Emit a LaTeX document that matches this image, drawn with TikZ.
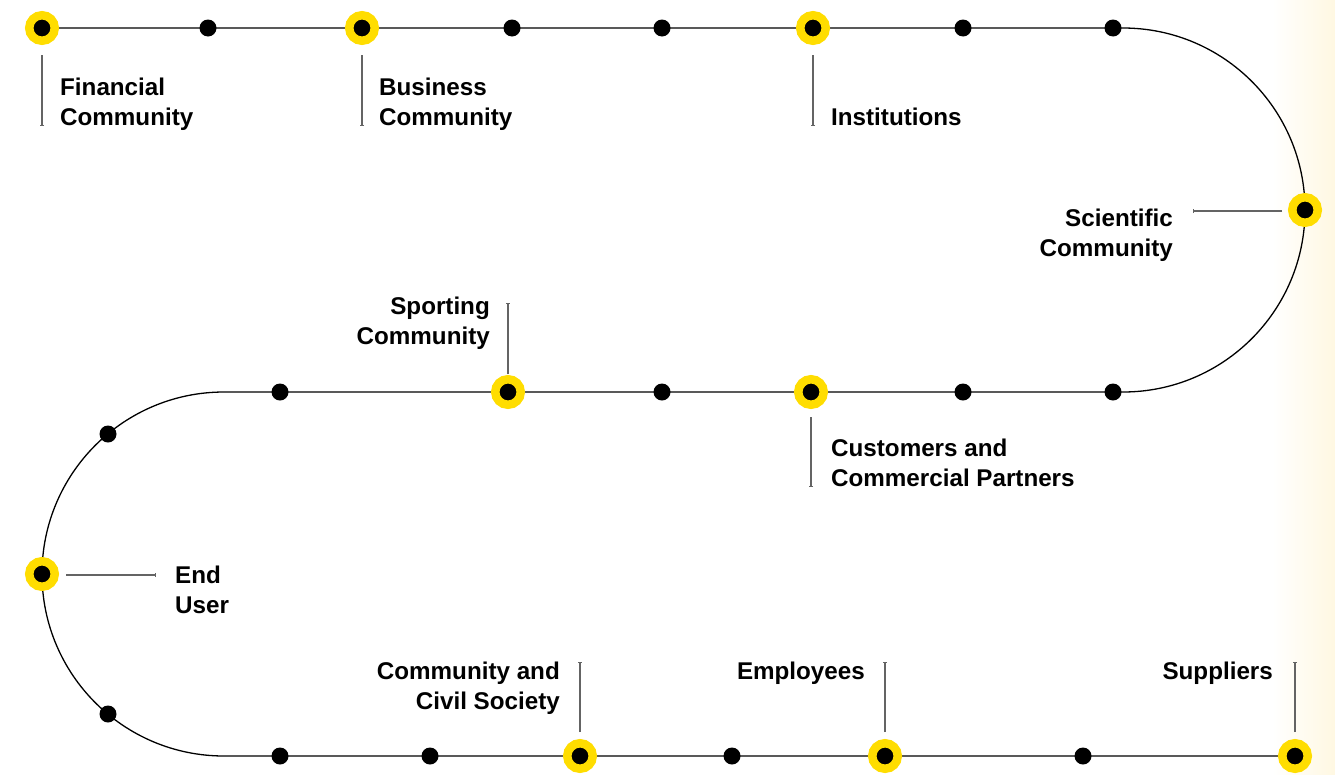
\documentclass[tikz,border=0pt]{standalone}
\usepackage{fontspec}
\setmainfont{Liberation Sans}
\usetikzlibrary{arrows.meta}
\definecolor{dotyellow}{RGB}{255,221,0}
\definecolor{tickgray}{RGB}{100,100,100}
\definecolor{cream}{RGB}{255,248,226}
\begin{document}
\begin{tikzpicture}[x=1pt,y=-1pt,
  mainline/.style={line width=1.3pt,black},
  ydot/.style={circle,draw=dotyellow,line width=8.5pt,fill=black,minimum size=25.5pt,inner sep=0pt},
  bdot/.style={circle,fill=black,minimum size=17pt,inner sep=0pt},
  tickline/.style={line width=1.1pt,tickgray,-{Bar[width=4pt,line width=0.8pt]}},
  lbl/.style={inner sep=0pt,font=\fontsize{24.2}{30}\selectfont\bfseries}]
\fill[white] (0,0) rectangle (1335,774);
\shade[left color=white,right color=cream] (1272,0) rectangle (1335,774);
\useasboundingbox (0,0) rectangle (1335,774);

% path coordinates
\coordinate (a1) at (1123,28);
\coordinate (a2) at (1123,392);
\coordinate (a3) at (224,392);
\coordinate (a4) at (224,756);

% dots (positions)
\coordinate (pfin) at (42,28);
\coordinate (pbus) at (362,28);
\coordinate (pins) at (813,28);
\coordinate (psci) at (1305,210);
\coordinate (pcus) at (811,392);
\coordinate (pspo) at (508,392);
\coordinate (pend) at (42,574);
\coordinate (pcom) at (580,756);
\coordinate (pemp) at (885,756);
\coordinate (psup) at (1295,756);

\draw[mainline] (pfin) -- (a1)
  .. controls (1223.5,28) and (1305,109.5) .. (psci)
  .. controls (1305,310.5) and (1223.5,392) .. (a2) -- (a3)
  .. controls (123.5,392) and (42,473.5) .. (pend)
  .. controls (42,674.5) and (123.5,756) .. (a4) -- (psup);

% black dots
\node[bdot] (b1) at (208,28) {};
\node[bdot] (b2) at (512,28) {};
\node[bdot] (b3) at (662,28) {};
\node[bdot] (b4) at (963,28) {};
\node[bdot] (b5) at (1113,28) {};
\node[bdot] (b6) at (1113,392) {};
\node[bdot] (b7) at (963,392) {};
\node[bdot] (b8) at (662,392) {};
\node[bdot] (b9) at (280,392) {};
\node[bdot] (b10) at (108,434) {};
\node[bdot] (b11) at (108,714) {};
\node[bdot] (b12) at (280,756) {};
\node[bdot] (b13) at (430,756) {};
\node[bdot] (b14) at (732,756) {};
\node[bdot] (b15) at (1083,756) {};

% yellow dots
\node[ydot] (yfin) at (pfin) {};
\node[ydot] (ybus) at (pbus) {};
\node[ydot] (yins) at (pins) {};
\node[ydot] (ysci) at (psci) {};
\node[ydot] (ycus) at (pcus) {};
\node[ydot] (yspo) at (pspo) {};
\node[ydot] (yend) at (pend) {};
\node[ydot] (ycom) at (pcom) {};
\node[ydot] (yemp) at (pemp) {};
\node[ydot] (ysup) at (psup) {};

% tick line ends
\coordinate (tfin1) at (42,55);   \coordinate (tfin2) at (42,126);
\coordinate (tbus1) at (362,55);  \coordinate (tbus2) at (362,126);
\coordinate (tins1) at (813,55);  \coordinate (tins2) at (813,126);
\coordinate (tsci1) at (1282,211); \coordinate (tsci2) at (1193,211);
\coordinate (tspo1) at (508,374); \coordinate (tspo2) at (508,303);
\coordinate (tcus1) at (811,417); \coordinate (tcus2) at (811,487);
\coordinate (tend1) at (66,575);  \coordinate (tend2) at (156,575);
\coordinate (tcom1) at (580,732); \coordinate (tcom2) at (580,662);
\coordinate (temp1) at (885,732); \coordinate (temp2) at (885,662);
\coordinate (tsup1) at (1295,732); \coordinate (tsup2) at (1295,662);

\foreach \n in {fin,bus,ins,sci,spo,cus,end,com,emp,sup}
  \draw[tickline] (t\n1) -- (t\n2);

% labels
\node[lbl,anchor=base west] (lfin) at (60,95) {\begin{tabular}[t]{@{}l@{}}Financial\\Community\end{tabular}};
\node[lbl,anchor=base west] (lbus) at (379,95) {\begin{tabular}[t]{@{}l@{}}Business\\Community\end{tabular}};
\node[lbl,anchor=base west] (lins) at (831,125) {Institutions};
\node[lbl,anchor=base east] (lsci) at (1173,226.5) {\begin{tabular}[t]{@{}r@{}}Scientific\\Community\end{tabular}};
\node[lbl,anchor=base east] (lspo) at (490,314) {\begin{tabular}[t]{@{}r@{}}Sporting\\Community\end{tabular}};
\node[lbl,anchor=base west] (lcus) at (831,456) {\begin{tabular}[t]{@{}l@{}}Customers and\\Commercial Partners\end{tabular}};
\node[lbl,anchor=base west] (lend) at (175,583) {\begin{tabular}[t]{@{}l@{}}End\\User\end{tabular}};
\node[lbl,anchor=base east] (lcom) at (560,679) {\begin{tabular}[t]{@{}r@{}}Community and\\Civil Society\end{tabular}};
\node[lbl,anchor=base east] (lemp) at (865,679) {Employees};
\node[lbl,anchor=base east] (lsup) at (1273,679) {Suppliers};
\end{tikzpicture}
\end{document}
